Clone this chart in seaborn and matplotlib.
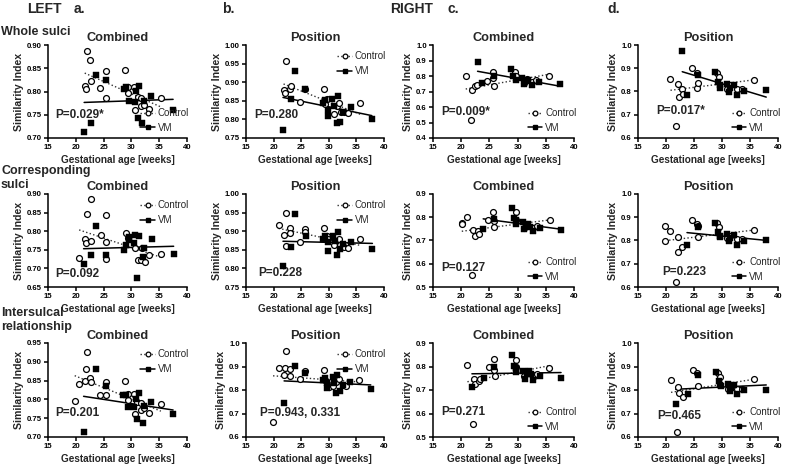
import matplotlib

matplotlib.use("Agg")
import matplotlib.pyplot as plt
import seaborn as sns
from matplotlib.lines import Line2D
from matplotlib.ticker import FormatStrFormatter, MultipleLocator

sns.set_theme(style="ticks")
plt.rcParams["font.family"] = ["Liberation Sans", "DejaVu Sans"]

# ---- data: gestational age [weeks] / similarity index, per panel ----
# row 1: whole sulci
a1_ctrl_ga = [21.6, 21.9, 22.0, 22.6, 22.7, 24.4, 25.4, 25.5, 28.9, 29.3, 29.4, 30.5, 30.6, 31.1, 31.7, 31.7, 32.3, 33.1, 35.4]
a1_ctrl_si = [0.812, 0.805, 0.887, 0.867, 0.823, 0.807, 0.845, 0.787, 0.846, 0.810, 0.796, 0.809, 0.760, 0.788, 0.786, 0.769, 0.772, 0.762, 0.786]
a1_vm_ga = [21.5, 22.7, 23.6, 25.4, 28.6, 29.1, 29.5, 30.6, 30.8, 31.4, 31.1, 31.9, 32.2, 33.6, 37.5]
a1_vm_si = [0.712, 0.733, 0.836, 0.825, 0.805, 0.809, 0.780, 0.777, 0.801, 0.812, 0.742, 0.733, 0.780, 0.791, 0.760]

b1_ctrl_ga = [21.8, 22.1, 22.3, 23.0, 23.1, 24.8, 25.7, 29.2, 29.4, 29.7, 31.0, 31.5, 31.8, 32.2, 32.7, 33.4, 35.7]
b1_ctrl_si = [0.878, 0.871, 0.957, 0.881, 0.891, 0.848, 0.881, 0.881, 0.842, 0.854, 0.815, 0.837, 0.844, 0.821, 0.819, 0.817, 0.843]
b1_vm_ga = [21.7, 23.1, 23.9, 25.7, 28.9, 29.3, 29.8, 29.9, 30.6, 31.0, 31.4, 31.7, 32.1, 32.5, 34.0, 37.8]
b1_vm_si = [0.772, 0.855, 0.930, 0.881, 0.844, 0.853, 0.826, 0.810, 0.854, 0.836, 0.790, 0.862, 0.794, 0.821, 0.832, 0.802]

c1_ctrl_ga = [20.8, 21.8, 22.0, 22.4, 22.8, 24.6, 25.6, 25.6, 25.8, 29.5, 29.7, 31.1, 31.6, 32.6, 33.3, 35.5]
c1_ctrl_si = [0.797, 0.513, 0.712, 0.735, 0.744, 0.765, 0.827, 0.784, 0.737, 0.827, 0.797, 0.758, 0.780, 0.763, 0.776, 0.797]
c1_vm_ga = [22.9, 23.7, 25.8, 28.8, 29.2, 29.7, 30.8, 31.2, 31.5, 31.8, 32.6, 33.8, 37.6]
c1_vm_si = [0.893, 0.754, 0.797, 0.848, 0.801, 0.776, 0.784, 0.748, 0.765, 0.776, 0.741, 0.763, 0.746]

d1_ctrl_ga = [20.8, 21.8, 22.1, 22.3, 22.9, 23.0, 24.6, 25.5, 25.5, 25.7, 29.1, 29.5, 30.9, 31.4, 32.6, 33.6, 35.7]
d1_ctrl_si = [0.853, 0.653, 0.831, 0.776, 0.811, 0.789, 0.903, 0.879, 0.817, 0.836, 0.879, 0.864, 0.811, 0.826, 0.811, 0.811, 0.850]
d1_vm_ga = [22.9, 23.75, 25.7, 28.8, 29.3, 29.6, 29.7, 30.9, 31.25, 31.5, 32.1, 32.6, 33.9, 37.9]
d1_vm_si = [0.976, 0.787, 0.871, 0.883, 0.843, 0.826, 0.817, 0.831, 0.796, 0.817, 0.826, 0.786, 0.803, 0.807]

# row 2: corresponding sulci
a2_ctrl_ga = [20.6, 21.6, 21.9, 22.05, 22.65, 22.8, 24.5, 25.4, 25.4, 25.5, 29.0, 29.3, 30.7, 31.1, 31.7, 31.9, 32.4, 33.2, 35.4]
a2_ctrl_si = [0.729, 0.778, 0.767, 0.846, 0.886, 0.773, 0.791, 0.843, 0.770, 0.726, 0.796, 0.782, 0.756, 0.722, 0.723, 0.756, 0.716, 0.737, 0.740]
a2_vm_ga = [21.4, 22.8, 23.6, 25.4, 28.7, 29.0, 29.5, 29.5, 30.5, 30.7, 31.3, 31.0, 32.0, 32.2, 33.7, 37.6]
a2_vm_si = [0.713, 0.735, 0.815, 0.737, 0.749, 0.764, 0.785, 0.776, 0.767, 0.791, 0.787, 0.674, 0.731, 0.755, 0.779, 0.740]

b2_ctrl_ga = [20.9, 21.8, 22.2, 22.3, 23.0, 23.05, 24.8, 25.7, 25.7, 29.2, 29.6, 29.8, 31.0, 31.9, 32.1, 32.7, 33.4, 35.7]
b2_ctrl_si = [0.917, 0.891, 0.861, 0.950, 0.908, 0.895, 0.871, 0.907, 0.898, 0.908, 0.888, 0.879, 0.864, 0.880, 0.862, 0.857, 0.855, 0.879]
b2_vm_ga = [21.7, 23.1, 23.9, 25.8, 29.0, 29.4, 29.8, 29.9, 30.8, 31.1, 31.4, 31.7, 32.1, 32.5, 34.0, 37.9]
b2_vm_si = [0.806, 0.857, 0.946, 0.888, 0.879, 0.886, 0.871, 0.848, 0.888, 0.875, 0.837, 0.899, 0.853, 0.866, 0.871, 0.852]

c2_ctrl_ga = [20.1, 20.1, 21.0, 22.0, 22.1, 22.5, 23.0, 23.2, 24.75, 25.7, 25.8, 25.9, 29.7, 29.8, 31.1, 31.6, 32.7, 33.4, 35.7]
c2_ctrl_si = [0.776, 0.769, 0.801, 0.551, 0.744, 0.721, 0.741, 0.730, 0.790, 0.824, 0.783, 0.759, 0.821, 0.790, 0.752, 0.772, 0.752, 0.762, 0.787]
c2_vm_ga = [23.9, 25.8, 29.0, 29.3, 29.7, 29.8, 30.9, 31.2, 31.5, 31.9, 32.2, 32.7, 33.9, 37.7]
c2_vm_si = [0.748, 0.794, 0.841, 0.797, 0.790, 0.769, 0.780, 0.748, 0.762, 0.772, 0.758, 0.739, 0.755, 0.744]

d2_ctrl_ga = [19.9, 19.9, 20.8, 21.85, 22.1, 22.2, 22.9, 24.7, 25.5, 25.65, 25.65, 29.1, 29.5, 30.9, 31.4, 32.6, 33.6, 35.7]
d2_ctrl_si = [0.863, 0.797, 0.842, 0.621, 0.814, 0.751, 0.772, 0.889, 0.873, 0.863, 0.814, 0.875, 0.856, 0.810, 0.821, 0.807, 0.807, 0.847]
d2_vm_ga = [23.75, 25.65, 28.8, 29.3, 29.6, 29.7, 30.9, 31.25, 31.5, 32.1, 32.6, 33.9, 37.9]
d2_vm_si = [0.782, 0.859, 0.877, 0.838, 0.821, 0.817, 0.828, 0.796, 0.810, 0.824, 0.782, 0.796, 0.803]

# row 3: intersulcal relationship
a3_ctrl_ga = [19.8, 20.6, 21.6, 21.8, 22.0, 22.6, 22.7, 24.4, 25.4, 25.5, 28.9, 29.3, 29.3, 30.5, 30.6, 31.0, 31.7, 31.8, 32.3, 33.1, 35.3]
a3_ctrl_si = [0.795, 0.841, 0.849, 0.880, 0.926, 0.857, 0.847, 0.812, 0.845, 0.812, 0.849, 0.814, 0.798, 0.814, 0.762, 0.794, 0.791, 0.771, 0.776, 0.764, 0.788]
a3_vm_ga = [21.4, 23.6, 25.4, 28.5, 29.0, 29.4, 30.5, 30.8, 31.4, 31.0, 32.0, 32.2, 33.6, 37.5]
a3_vm_si = [0.713, 0.880, 0.836, 0.812, 0.812, 0.779, 0.780, 0.800, 0.816, 0.749, 0.736, 0.782, 0.794, 0.762]

b3_ctrl_ga = [19.9, 20.9, 21.9, 22.1, 22.3, 23.0, 23.0, 24.7, 25.7, 29.1, 29.5, 30.1, 30.8, 31.3, 31.8, 32.5, 33.2, 35.4]
b3_ctrl_si = [0.664, 0.893, 0.864, 0.893, 0.967, 0.889, 0.860, 0.846, 0.879, 0.883, 0.840, 0.814, 0.817, 0.836, 0.846, 0.821, 0.817, 0.843]
b3_vm_ga = [21.9, 23.9, 25.7, 28.9, 29.4, 29.6, 29.7, 30.8, 30.9, 31.3, 31.5, 32.0, 32.5, 33.8, 37.6]
b3_vm_si = [0.746, 0.903, 0.874, 0.843, 0.853, 0.829, 0.807, 0.854, 0.831, 0.789, 0.864, 0.796, 0.821, 0.836, 0.803]

c3_ctrl_ga = [21.1, 22.1, 22.3, 22.5, 23.1, 23.3, 24.9, 25.8, 25.9, 26.0, 29.7, 29.8, 31.1, 31.7, 32.7, 33.4, 35.6]
c3_ctrl_si = [0.808, 0.554, 0.747, 0.726, 0.737, 0.745, 0.798, 0.832, 0.784, 0.761, 0.829, 0.798, 0.759, 0.780, 0.756, 0.769, 0.794]
c3_vm_ga = [21.9, 24.0, 25.9, 29.0, 29.4, 29.7, 29.8, 31.0, 31.3, 31.6, 32.0, 32.3, 32.7, 33.9, 37.7]
c3_vm_si = [0.712, 0.752, 0.798, 0.848, 0.801, 0.794, 0.776, 0.780, 0.747, 0.770, 0.780, 0.766, 0.742, 0.761, 0.749]

d3_ctrl_ga = [20.9, 21.9, 22.1, 22.4, 23.1, 24.75, 25.6, 25.8, 29.35, 29.65, 31.0, 31.4, 32.6, 33.5, 35.8]
d3_ctrl_si = [0.842, 0.621, 0.813, 0.788, 0.770, 0.887, 0.873, 0.816, 0.873, 0.854, 0.806, 0.813, 0.805, 0.806, 0.845]
d3_vm_ga = [21.75, 23.85, 25.8, 28.9, 29.4, 29.6, 29.8, 31.1, 31.4, 31.6, 32.2, 32.6, 34.0, 37.9]
d3_vm_si = [0.740, 0.785, 0.863, 0.876, 0.837, 0.823, 0.816, 0.827, 0.795, 0.809, 0.823, 0.781, 0.798, 0.802]

titles = ["Combined", "Position", "Combined", "Position"]
p_labels = [
    ["P=0.029*", "P=0.280", "P=0.009*", "P=0.017*"],
    ["P=0.092", "P=0.228", "P=0.127", "P=0.223"],
    ["P=0.201", "P=0.943, 0.331", "P=0.271", "P=0.465"],
]
row_labels = ["Whole sulci", "Corresponding\nsulci", "Intersulcal\nrelationship"]

panel_data = [
    [(a1_ctrl_ga, a1_ctrl_si, a1_vm_ga, a1_vm_si), (b1_ctrl_ga, b1_ctrl_si, b1_vm_ga, b1_vm_si),
     (c1_ctrl_ga, c1_ctrl_si, c1_vm_ga, c1_vm_si), (d1_ctrl_ga, d1_ctrl_si, d1_vm_ga, d1_vm_si)],
    [(a2_ctrl_ga, a2_ctrl_si, a2_vm_ga, a2_vm_si), (b2_ctrl_ga, b2_ctrl_si, b2_vm_ga, b2_vm_si),
     (c2_ctrl_ga, c2_ctrl_si, c2_vm_ga, c2_vm_si), (d2_ctrl_ga, d2_ctrl_si, d2_vm_ga, d2_vm_si)],
    [(a3_ctrl_ga, a3_ctrl_si, a3_vm_ga, a3_vm_si), (b3_ctrl_ga, b3_ctrl_si, b3_vm_ga, b3_vm_si),
     (c3_ctrl_ga, c3_ctrl_si, c3_vm_ga, c3_vm_si), (d3_ctrl_ga, d3_ctrl_si, d3_vm_ga, d3_vm_si)],
]

# axis ranges: (ymin, ymax, step, decimals)
y_axes = [
    [(0.70, 0.90, 0.05, 2), (0.75, 1.00, 0.05, 2), (0.4, 1.0, 0.1, 1), (0.6, 1.0, 0.1, 1)],
    [(0.65, 0.90, 0.05, 2), (0.75, 1.00, 0.05, 2), (0.5, 0.9, 0.1, 1), (0.6, 1.0, 0.1, 1)],
    [(0.70, 0.95, 0.05, 2), (0.6, 1.0, 0.1, 1), (0.5, 0.9, 0.1, 1), (0.6, 1.0, 0.1, 1)],
]
# P-value text position (axes fraction) and legend corner
p_pos = [
    [(0.05, 0.25), (0.06, 0.25), (0.06, 0.28), (0.13, 0.29)],
    [(0.05, 0.14), (0.09, 0.15), (0.06, 0.20), (0.17, 0.16)],
    [(0.05, 0.26), (0.10, 0.26), (0.06, 0.27), (0.14, 0.22)],
]
legend_loc = [
    ["lower right", "upper right", "lower right", "lower right"],
    ["upper right", "upper right", "lower right", "lower right"],
    ["upper right", "upper right", "lower right", "lower right"],
]

W, H = 787, 467
col_left = [48, 246, 433, 638]
col_width = [139, 138, 141, 140]
row_top = [45, 194, 343]
row_height = [93, 93, 94]

fig = plt.figure(figsize=(W / 100, H / 100), dpi=100)

handles = [
    Line2D([], [], color="#333333", ls=":", lw=1.0, marker="o", ms=3.4,
           mfc="white", mec="black", mew=0.9),
    Line2D([], [], color="black", ls="-", lw=1.1, marker="s", ms=3.1,
           mfc="black", mec="black"),
]

for r in range(3):
    for c in range(4):
        left = col_left[c] / W
        bottom = 1 - (row_top[r] + row_height[r]) / H
        ax = fig.add_axes([left, bottom, col_width[c] / W, row_height[r] / H])
        cx, cy, vx, vy = panel_data[r][c]

        sns.regplot(x=cx, y=cy, ax=ax, scatter=False, ci=None, truncate=True,
                    line_kws=dict(color="#333333", ls=":", lw=1.0))
        sns.regplot(x=vx, y=vy, ax=ax, scatter=False, ci=None, truncate=True,
                    line_kws=dict(color="black", ls="-", lw=1.1))
        sns.scatterplot(x=cx, y=cy, ax=ax, marker="o", s=18, facecolor="white",
                        edgecolor="black", linewidth=0.9, zorder=3)
        sns.scatterplot(x=vx, y=vy, ax=ax, marker="s", s=15, color="black",
                        edgecolor="black", linewidth=0.3, zorder=4)

        ymin, ymax, step, dec = y_axes[r][c]
        ax.set_xlim(15, 40)
        ax.set_ylim(ymin, ymax)
        ax.xaxis.set_major_locator(MultipleLocator(5))
        ax.yaxis.set_major_locator(MultipleLocator(step))
        ax.yaxis.set_major_formatter(FormatStrFormatter(f"%.{dec}f"))
        sns.despine(ax=ax)
        for s in ("left", "bottom"):
            ax.spines[s].set_linewidth(1.1)
            ax.spines[s].set_color("black")
        ax.tick_params(length=3, width=1.1, pad=1.5, labelsize=5.6, colors="black")
        for lab in ax.get_xticklabels() + ax.get_yticklabels():
            lab.set_fontweight("bold")

        ax.set_title(titles[c], fontsize=9.2, fontweight="bold", pad=3)
        ax.set_xlabel("Gestational age [weeks]", fontsize=7.2, fontweight="bold", labelpad=3)
        ax.set_ylabel("Similarity Index", fontsize=7.6, fontweight="bold", labelpad=2)

        px, py = p_pos[r][c]
        ax.text(px, py, p_labels[r][c], transform=ax.transAxes, fontsize=8.5,
                fontweight="bold", ha="left", va="center")

        loc = legend_loc[r][c]
        anchor = (1.03, 0.035) if loc == "lower right" else (1.03, 0.955)
        ax.legend(handles, ["Control", "VM"], loc=loc, bbox_to_anchor=anchor,
                  frameon=False, fontsize=7, handlelength=1.5, handletextpad=0.3,
                  labelspacing=0.5, borderaxespad=0, borderpad=0.2)

# column and row headers
head_y = 1 - 9 / H
fig.text(27 / W, head_y, "LEFT", fontsize=10, fontweight="bold", va="center")
fig.text(74 / W, head_y, "a.", fontsize=10, fontweight="bold", va="center")
fig.text(222 / W, head_y, "b.", fontsize=10, fontweight="bold", va="center")
fig.text(390 / W, head_y, "RIGHT", fontsize=10, fontweight="bold", va="center")
fig.text(448 / W, head_y, "c.", fontsize=10, fontweight="bold", va="center")
fig.text(607 / W, head_y, "d.", fontsize=10, fontweight="bold", va="center")

row_label_y = [32, 178, 320]
for r, txt in enumerate(row_labels):
    fig.text(1 / W, 1 - row_label_y[r] / H, txt, fontsize=9, fontweight="bold",
             va="center", ha="left", linespacing=1.15)

fig.savefig("out.png", dpi=100)
